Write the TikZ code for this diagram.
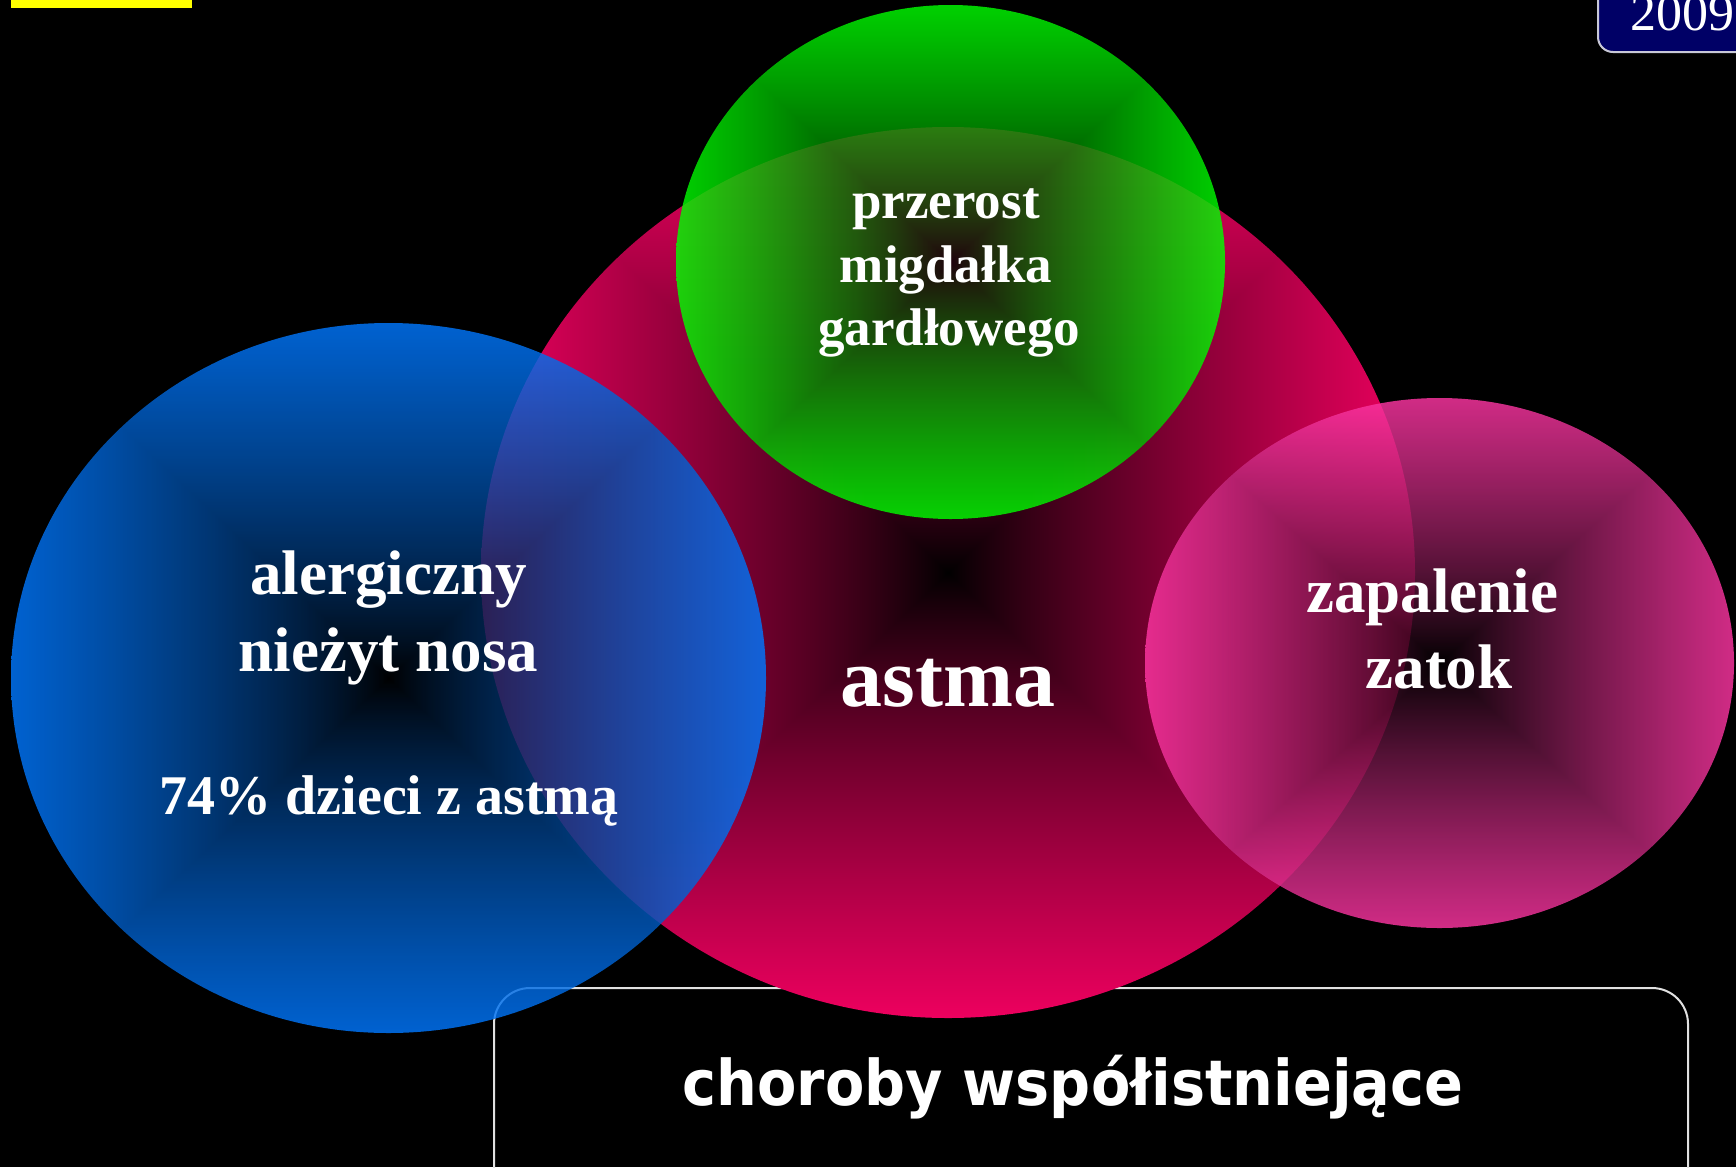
\documentclass[tikz,border=0pt]{standalone}
\usepackage{fontspec}
\setmainfont{Liberation Serif}
\newfontfamily\boxfont[FakeStretch=0.91]{DejaVu Sans}

\definecolor{navybox}{RGB}{0,0,102}
\definecolor{boxline}{RGB}{225,225,225}
\definecolor{yellowbar}{RGB}{255,255,0}

% rectangular ("pyramid") gradients: black centre -> bright edge
\pgfdeclarefunctionalshading{pyrpink}{\pgfpoint{-50bp}{-50bp}}{\pgfpoint{50bp}{50bp}}{}{
  abs exch abs 2 copy lt {exch} if pop 25 div dup 1 gt {pop 1} if 0.85 exp
  dup 0.93 mul exch dup 0.0 mul exch 0.37 mul
}
\pgfdeclarefunctionalshading{pyrgreen}{\pgfpoint{-50bp}{-50bp}}{\pgfpoint{50bp}{50bp}}{}{
  abs exch abs 2 copy lt {exch} if pop 25 div dup 1 gt {pop 1} if 0.8 exp
  dup 0.0 mul exch dup 1.0 mul exch 0.0 mul
}
\pgfdeclarefunctionalshading{pyrblue}{\pgfpoint{-50bp}{-50bp}}{\pgfpoint{50bp}{50bp}}{}{
  abs exch abs 2 copy lt {exch} if pop 25 div dup 1 gt {pop 1} if 0.8 exp
  dup 0.0 mul exch dup 0.47 mul exch 1.0 mul
}
\pgfdeclarefunctionalshading{pyrmagenta}{\pgfpoint{-50bp}{-50bp}}{\pgfpoint{50bp}{50bp}}{}{
  abs exch abs 2 copy lt {exch} if pop 25 div dup 1 gt {pop 1} if 0.85 exp
  dup 1.0 mul exch dup 0.21 mul exch 0.64 mul
}

\tikzset{
  lbl/.style={text=white, inner sep=0pt, anchor=base},
  bigserif/.style={font=\fontsize{63}{63}\selectfont\bfseries},
  midserif/.style={font=\fontsize{53}{53}\selectfont\bfseries},
  pctserif/.style={font=\fontsize{56}{56}\selectfont\bfseries},
  astmaserif/.style={font=\fontsize{84}{84}\selectfont\bfseries},
  overlay circle/.style={fill opacity=0.82},
}

\begin{document}
\begin{tikzpicture}[x=1pt,y=-1pt]
\useasboundingbox (0,0) rectangle (1736,1167);
\clip (0,0) rectangle (1736,1167);
\fill[black] (0,0) rectangle (1736,1167);

% top-left yellow bar
\fill[yellowbar] (11,-4) rectangle (192,8);

% top-right year box
\draw[fill=navybox, draw={rgb,255:red,200;green,200;blue,215}, line width=2, rounded corners=15]
  (1598,-40) rectangle (1780,52);
\node[text=white, inner sep=0pt, anchor=base west, font=\fontsize{52}{52}\selectfont] (year) at (1630,30) {2009};

% bottom rounded frame
\draw[boxline, line width=2, rounded corners=36] (494,988) rectangle (1688,1230);

% circles
\path[shading=pyrpink] (948,572.5) ellipse [x radius=467, y radius=445.5];
\path[shading=pyrgreen, overlay circle] (950.5,262) ellipse [x radius=274.5, y radius=257];
\path[shading=pyrblue, overlay circle] (388.5,678) ellipse [x radius=377.5, y radius=355];
\path[shading=pyrmagenta, overlay circle] (1439.5,663) ellipse [x radius=294.5, y radius=265];

% labels
\node[lbl, midserif] (p1) at (946,218) {przerost};
\node[lbl, midserif] (p2) at (946,282) {migdałka};
\node[lbl, midserif] (p3) at (949,345) {gardłowego};

\node[lbl, bigserif] (a1) at (388.5,594) {alergiczny};
\node[lbl, bigserif] (a2) at (388.5,671) {nieżyt nosa};
\node[lbl, pctserif] (a3) at (389,814) {74\% dzieci z astmą};

\node[lbl, astmaserif] (as) at (948,706) {astma};

\node[lbl, bigserif] (z1) at (1432,612) {zapalenie};
\node[lbl, bigserif] (z2) at (1439,688) {zatok};

\node[lbl, font=\boxfont\fontsize{63}{63}\selectfont\bfseries] (cap) at (1073,1105) {choroby współistniejące};
\end{tikzpicture}
\end{document}
